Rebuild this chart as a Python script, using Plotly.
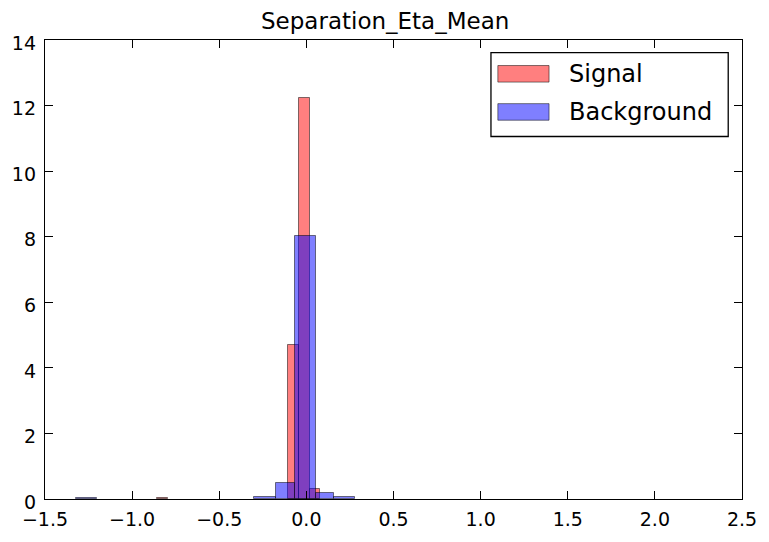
import plotly.graph_objects as go

# ---- data ----
signal_left_edges = [-0.859, -0.105, -0.043, 0.019]
signal_right_edges = [-0.797, -0.043, 0.019, 0.081]
signal_heights = [0.04, 4.71, 12.22, 0.31]

background_left_edges = [-1.321, -0.298, -0.177, -0.066, 0.055, 0.16]
background_right_edges = [-1.204, -0.177, -0.066, 0.055, 0.16, 0.28]
background_heights = [0.04, 0.05, 0.50, 8.03, 0.18, 0.05]

series_names = ["Signal", "Background"]
x_tick_vals = [-1.5, -1.0, -0.5, 0.0, 0.5, 1.0, 1.5, 2.0, 2.5]
x_tick_text = ["\u22121.5", "\u22121.0", "\u22120.5", "0.0", "0.5", "1.0", "1.5", "2.0", "2.5"]
y_tick_vals = [0, 2, 4, 6, 8, 10, 12, 14]
title_text = "Separation_Eta_Mean"

# ---- styling ----
W, H = 769, 542
L, R, T, B = 44, 752, 40, 511
FONT = "DejaVu Sans"
fills = ["rgba(255,0,0,0.5)", "rgba(0,0,255,0.5)"]
edge = "rgba(0,0,0,0.5)"


def px_x(px):
    return (px - L) / (R - L)


def px_y(py):
    return (B - py) / (B - T)


def centers(lo, hi):
    return [(a + b) / 2 for a, b in zip(lo, hi)]


def widths(lo, hi):
    return [b - a for a, b in zip(lo, hi)]


fig = go.Figure()
fig.add_trace(go.Bar(
    x=centers(signal_left_edges, signal_right_edges),
    y=signal_heights,
    width=widths(signal_left_edges, signal_right_edges),
    name=series_names[0],
    marker=dict(color=fills[0], line=dict(color=edge, width=1)),
    showlegend=False,
))
fig.add_trace(go.Bar(
    x=centers(background_left_edges, background_right_edges),
    y=background_heights,
    width=widths(background_left_edges, background_right_edges),
    name=series_names[1],
    marker=dict(color=fills[1], line=dict(color=edge, width=1)),
    showlegend=False,
))

axis_common = dict(
    showgrid=False, zeroline=False, showline=True, linecolor="black", linewidth=1.3,
    mirror="ticks", ticks="inside", ticklen=8, tickwidth=1, tickcolor="black",
    tickfont=dict(family=FONT, size=19, color="black"),
)
fig.update_xaxes(range=[-1.5, 2.5], tickvals=x_tick_vals, ticktext=x_tick_text,
                 ticklabelstandoff=3, **axis_common)
fig.update_yaxes(range=[0, 14], tickvals=y_tick_vals, ticklabelstandoff=4,
                 ticklabelshift=3, **axis_common)

shapes = []
annotations = []
# legend box
shapes.append(dict(type="rect", xref="paper", yref="paper",
                   x0=px_x(497), x1=px_x(738), y0=px_y(139), y1=px_y(53),
                   line=dict(color="black", width=1.3), fillcolor="white", layer="above"))
for i, (name, cy) in enumerate(zip(series_names, [74.7, 113.8])):
    shapes.append(dict(type="rect", xref="paper", yref="paper",
                       x0=px_x(504), x1=px_x(556), y0=px_y(cy + 8.5), y1=px_y(cy - 8.5),
                       line=dict(color=edge, width=1), fillcolor=fills[i], layer="above"))
    annotations.append(dict(xref="paper", yref="paper", x=px_x(574), y=px_y(cy),
                            xanchor="left", yanchor="middle", text=name, showarrow=False,
                            font=dict(family=FONT, size=24, color="black")))

annotations.append(dict(xref="paper", yref="paper", x=px_x(389), y=px_y(20),
                        xanchor="center", yanchor="middle", text=title_text, showarrow=False,
                        font=dict(family=FONT, size=23, color="black")))

fig.update_layout(
    width=W, height=H,
    margin=dict(l=L, r=W - R, t=T, b=H - B, pad=0),
    paper_bgcolor="white", plot_bgcolor="white",
    barmode="overlay", bargap=0,
    shapes=shapes, annotations=annotations,
    showlegend=False,
)

fig.write_html(
    "out.html",
    config={"displayModeBar": False},
    post_script=(
        "document.documentElement.style.margin='0';"
        "document.documentElement.style.overflow='hidden';"
        "document.body.style.margin='0';"
        "document.body.style.overflow='hidden';"
    ),
)
